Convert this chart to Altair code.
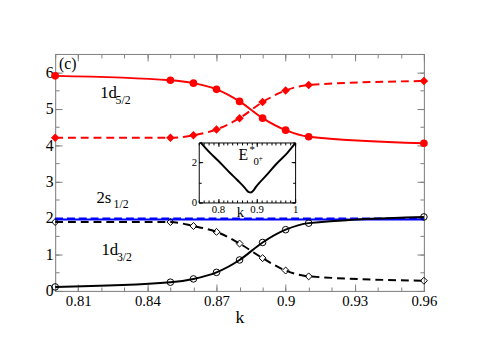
import altair as alt
import pandas as pd

# ---------------- data ----------------
k = [0.80, 0.85, 0.86, 0.87, 0.88, 0.89, 0.90, 0.91, 0.96]
d52_solid = [5.90, 5.78, 5.70, 5.53, 5.20, 4.74, 4.41, 4.23, 4.05]
d52_dashed = [4.20, 4.20, 4.27, 4.43, 4.74, 5.18, 5.50, 5.65, 5.76]
d32_solid = [0.11, 0.24, 0.33, 0.51, 0.85, 1.33, 1.68, 1.86, 2.03]
d32_dashed = [1.89, 1.89, 1.78, 1.62, 1.30, 0.90, 0.56, 0.40, 0.28]
s12_solid = [1.96, 1.96, 1.96, 1.96, 1.96, 1.96, 1.96, 1.96, 1.96]
s12_dashed = [1.99, 1.99, 1.99, 1.99, 1.99, 1.99, 1.99, 1.99, 1.99]

inset_k = [0.755, 0.78, 0.80, 0.83, 0.85, 0.87, 0.875, 0.88, 0.885, 0.89, 0.90, 0.93, 0.95, 0.98, 1.00]
inset_E = [3.00, 2.47, 2.10, 1.50, 1.12, 0.72, 0.60, 0.52, 0.50, 0.56, 0.82, 1.45, 1.90, 2.48, 2.95]

x_major = [0.81, 0.84, 0.87, 0.90, 0.93, 0.96]
x_minor = [0.80, 0.81, 0.82, 0.83, 0.84, 0.85, 0.86, 0.87, 0.88, 0.89,
           0.90, 0.91, 0.92, 0.93, 0.94, 0.95, 0.96]
y_major = [0, 1, 2, 3, 4, 5, 6]
y_minor = [0, 0.5, 1, 1.5, 2, 2.5, 3, 3.5, 4, 4.5, 5, 5.5, 6, 6.5]

ix_major = [0.8, 0.9, 1.0]
ix_minor = [0.75, 0.7625, 0.775, 0.7875, 0.8, 0.8125, 0.825, 0.8375, 0.85,
            0.8625, 0.875, 0.8875, 0.9, 0.9125, 0.925, 0.9375, 0.95, 0.9625,
            0.975, 0.9875, 1.0]
iy_major = [0, 2]
iy_minor = [0, 1, 2, 3]

# annotations (main data coordinates)
main_text = ["(c)", "1d", "5/2", "2s", "1/2", "1d", "3/2"]
main_tx = [0.8017, 0.8195, 0.8262, 0.8179, 0.8253, 0.8201, 0.8268]
main_ty = [6.10, 5.29, 5.12, 2.42, 2.27, 0.98, 0.81]
main_fs = [16, 17, 12, 17, 12, 17, 12]

inset_text = ["E", "*", "0", "+"]
inset_tx = [0.853, 0.882, 0.892, 0.905]
inset_ty = [2.11, 2.45, 1.87, 2.05]
inset_fs = [16, 11, 11, 8]

# ---------------- layout ----------------
W, H = 375, 241
FONT = "Liberation Serif, Times New Roman, Times, serif"
GRAY = "#808080"

XS = alt.Scale(domain=[0.80, 0.96], nice=False, zero=False)
YS = alt.Scale(domain=[0, 6.5], nice=False, zero=False)
IXS = alt.Scale(domain=[0.75, 1.0], range=[146, 244], nice=False, zero=False)
IYS = alt.Scale(domain=[0, 3], range=[151, 90], nice=False, zero=False)

df = pd.DataFrame({"k": k, "d52s": d52_solid, "d52d": d52_dashed,
                   "d32s": d32_solid, "d32d": d32_dashed,
                   "s12s": s12_solid, "s12d": s12_dashed})
dfi = pd.DataFrame({"k": inset_k, "E": inset_E})
dft = pd.DataFrame({"x": main_tx, "y": main_ty, "t": main_text, "fs": main_fs})
dfit = pd.DataFrame({"x": inset_tx, "y": inset_ty, "t": inset_text, "fs": inset_fs})


def ax(orient, values, offset=0, tick=0, labels=False, domain=False,
       color=GRAY, title=None, fmt=None, lsize=14, **extra):
    kw = dict(orient=orient, values=values, offset=offset, labels=labels,
              domain=domain, grid=False, title=title)
    if tick > 0:
        kw.update(ticks=True, tickSize=tick, tickColor=color, tickWidth=1)
    else:
        kw["ticks"] = False
    if domain:
        kw.update(domainColor=color, domainWidth=1)
    if labels:
        kw.update(labelFont=FONT, labelFontSize=lsize, labelColor="black",
                  labelFlush=False, labelOverlap=False)
        if fmt:
            kw["format"] = fmt
    kw.update(extra)
    return alt.Axis(**kw)


def hidden(data, xf, yf, xs, ys, xaxis, yaxis):
    return alt.Chart(data).mark_point(opacity=0).encode(
        x=alt.X(f"{xf}:Q", scale=xs, axis=xaxis),
        y=alt.Y(f"{yf}:Q", scale=ys, axis=yaxis))


layers = []

# main axes
layers.append(hidden(df, "k", "d52s", XS, YS,
                     ax("bottom", x_major, labels=True, domain=True, fmt=".2~f",
                        labelPadding=3, lsize=15, title="k", titleFont=FONT,
                        titleFontSize=18, titleFontWeight="normal",
                        titleColor="black", titlePadding=0),
                     ax("left", y_major, labels=True, domain=True,
                        labelPadding=2, lsize=16)))
layers.append(hidden(df, "k", "d52s", XS, YS,
                     ax("top", x_major, offset=-H, tick=7),
                     ax("right", y_major, offset=-W, tick=7)))
layers.append(hidden(df, "k", "d52s", XS, YS,
                     ax("top", x_minor, offset=-H, tick=4),
                     ax("right", y_minor, offset=-W, tick=4)))
layers.append(hidden(df, "k", "d52s", XS, YS,
                     ax("bottom", x_major, offset=-H, tick=7, domain=True),
                     ax("left", y_major, offset=-W, tick=7, domain=True)))
layers.append(hidden(df, "k", "d52s", XS, YS,
                     ax("bottom", x_minor, offset=-H, tick=4),
                     ax("left", y_minor, offset=-W, tick=4)))


def series(field, color, dash, shape, filled, size):
    base = alt.Chart(df).encode(
        x=alt.X("k:Q", scale=XS, axis=None),
        y=alt.Y(f"{field}:Q", scale=YS, axis=None))
    lk = dict(color=color, strokeWidth=2, interpolate="monotone")
    if dash:
        lk["strokeDash"] = dash
    out = [base.mark_line(**lk)]
    if shape:
        if filled:
            out.append(base.mark_point(shape=shape, filled=True, color=color,
                                       size=size, opacity=1))
        else:
            out.append(base.mark_point(shape=shape, filled=False, color=color,
                                       size=size, strokeWidth=1, opacity=1))
    return out


layers += series("s12s", "#0000ff", None, None, False, 0)
layers += series("s12d", "#0000ff", [8, 4], None, False, 0)
layers += series("d52s", "#ff0000", None, "circle", True, 60)
layers += series("d52d", "#ff0000", [8, 5], "diamond", True, 75)
layers += series("d32s", "black", None, "circle", False, 45)
layers += series("d32d", "black", [8, 5], "diamond", False, 50)

# main annotations
layers.append(alt.Chart(dft).mark_text(align="left", baseline="alphabetic",
                                        font=FONT, color="black").encode(
    x=alt.X("x:Q", scale=XS, axis=None),
    y=alt.Y("y:Q", scale=YS, axis=None),
    text="t:N",
    size=alt.Size("fs:Q", scale=None, legend=None)))

# inset axes
IC = "black"
layers.append(hidden(dfi, "k", "E", IXS, IYS,
                     ax("bottom", ix_major, offset=-(H - 151), labels=True,
                        domain=True, color=IC, fmt=".1~f", lsize=11,
                        labelPadding=1, title="k", titleFont=FONT,
                        titleFontSize=15, titleFontWeight="normal",
                        titleColor="black", titleX=188, titleY=14,
                        titleBaseline="alphabetic", titleAlign="center"),
                     ax("left", iy_major, offset=-146, labels=True, domain=True,
                        color=IC, lsize=11, labelPadding=2)))
layers.append(hidden(dfi, "k", "E", IXS, IYS,
                     ax("top", ix_major, offset=-151, tick=4, color=IC),
                     ax("right", iy_major, offset=-(W - 146), tick=4, color=IC)))
layers.append(hidden(dfi, "k", "E", IXS, IYS,
                     ax("top", ix_minor, offset=-151, tick=2.5, color=IC),
                     ax("right", iy_minor, offset=-(W - 146), tick=2.5, color=IC)))
layers.append(hidden(dfi, "k", "E", IXS, IYS,
                     ax("bottom", ix_major, offset=-(H - 90), tick=4,
                        domain=True, color=IC),
                     ax("left", iy_major, offset=-244, tick=4, domain=True,
                        color=IC)))
layers.append(hidden(dfi, "k", "E", IXS, IYS,
                     ax("bottom", ix_minor, offset=-(H - 90), tick=2.5, color=IC),
                     ax("left", iy_minor, offset=-244, tick=2.5, color=IC)))

layers.append(alt.Chart(dfi).mark_line(color="black", strokeWidth=2,
                                       interpolate="monotone", clip=True).encode(
    x=alt.X("k:Q", scale=IXS, axis=None),
    y=alt.Y("E:Q", scale=IYS, axis=None)))

layers.append(alt.Chart(dfit).mark_text(align="left", baseline="alphabetic",
                                         font=FONT, color="black").encode(
    x=alt.X("x:Q", scale=IXS, axis=None),
    y=alt.Y("y:Q", scale=IYS, axis=None),
    text="t:N",
    size=alt.Size("fs:Q", scale=None, legend=None)))

chart = alt.layer(*layers).resolve_scale(
    x="independent", y="independent").resolve_axis(
    x="independent", y="independent").properties(
    width=W, height=H,
    padding={"left": 48, "top": 44, "right": 54, "bottom": 40},
    autosize=alt.AutoSizeParams(type="none"),
    background="white",
).configure_view(stroke=None).configure(font=FONT)

chart.save("out.html", embed_options={"renderer": "svg", "actions": False})
